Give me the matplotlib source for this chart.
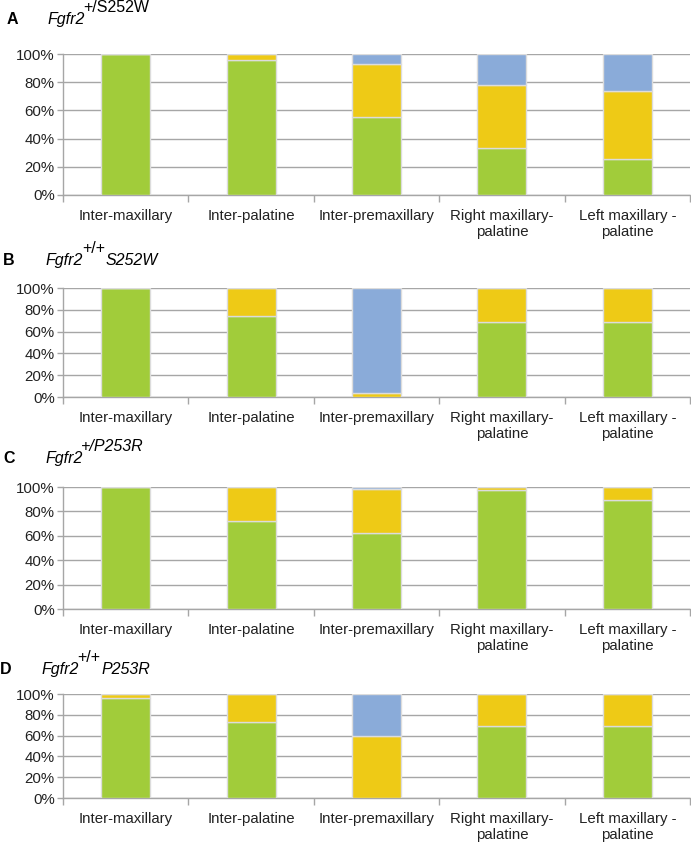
import matplotlib
matplotlib.use("Agg")
import matplotlib.pyplot as plt
import numpy as np

plt.rcParams['font.family'] = ['Liberation Sans', 'DejaVu Sans']

categories = ["Inter-maxillary", "Inter-palatine", "Inter-premaxillary",
              "Right maxillary-\npalatine", "Left maxillary -\npalatine"]

# green / yellow / blue shares (%) per panel
green_a = [100, 96, 55, 33, 25.5]
yellow_a = [0, 4, 38, 45, 48.5]
blue_a = [0, 0, 7, 22, 26]

green_b = [100, 74, 0, 69, 69]
yellow_b = [0, 26, 4, 31, 31]
blue_b = [0, 0, 96, 0, 0]

green_c = [100, 72, 62, 97.5, 89.5]
yellow_c = [0, 28, 36, 2.5, 10.5]
blue_c = [0, 0, 2, 0, 0]

green_d = [96, 73, 0, 69.5, 69.5]
yellow_d = [4, 27, 60, 30.5, 30.5]
blue_d = [0, 0, 40, 0, 0]

panels = [
    ("A", green_a, yellow_a, blue_a, "+/S252W", "", False),
    ("B", green_b, yellow_b, blue_b, "+/+", "S252W", False),
    ("C", green_c, yellow_c, blue_c, "+/P253R", "", True),
    ("D", green_d, yellow_d, blue_d, "+/+", "P253R", False),
]

# axes boxes in pixels: (top, bottom), title baseline, label x, gene x
boxes = [(54, 195), (288, 397), (487, 609), (694, 798)]
title_y = [24, 265, 463, 674]
label_x = [7, 3, 3, 0]
gene_x = [47, 46, 45, 41]

W, H = 691, 847
fig = plt.figure(figsize=(W / 100, H / 100), dpi=100)

GREEN = "#a1cc3a"
YELLOW = "#eeca16"
BLUE = "#8aabd9"
GRID = "#a6a6a6"

x = np.arange(len(categories))
for (lab, g, yl, b, sup, after, sup_it), (top, bot), ty, lx, gx in zip(
        panels, boxes, title_y, label_x, gene_x):
    ax = fig.add_axes([63 / W, 1 - bot / H, (690 - 63) / W, (bot - top) / H])
    g = np.array(g); yl = np.array(yl); b = np.array(b)
    kw = dict(width=0.39, edgecolor="#dcdcdc", linewidth=1, zorder=3)
    ax.bar(x, g, color=GREEN, **kw)
    ax.bar(x, yl, bottom=g, color=YELLOW, **kw)
    ax.bar(x, b, bottom=g + yl, color=BLUE, **kw)

    ax.set_xlim(-0.5, len(categories) - 0.5)
    ax.set_ylim(0, 100)
    ax.set_yticks([0, 20, 40, 60, 80, 100])
    ax.set_yticklabels(["0%", "20%", "40%", "60%", "80%", "100%"], fontsize=10.8, color="#222222")
    ax.set_xticks(x)
    ax.set_xticklabels(categories, fontsize=10.8, color="#222222", linespacing=1.15)
    ax.set_xticks(np.arange(len(categories) + 1) - 0.5, minor=True)
    ax.tick_params(axis="x", which="major", length=0, pad=10)
    ax.tick_params(axis="x", which="minor", length=5, color=GRID, width=1)
    ax.tick_params(axis="y", length=4, color=GRID, width=1, pad=2)
    ax.grid(axis="y", color=GRID, linewidth=1, zorder=0)
    for s in ["top", "right"]:
        ax.spines[s].set_visible(False)
    for s in ["left", "bottom"]:
        ax.spines[s].set_color(GRID)
        ax.spines[s].set_linewidth(1)

    yb = 1 - ty / H
    fig.text(lx / W, yb, lab, fontsize=11.5, fontweight="bold", va="baseline")
    fig.text(gx / W, yb, "Fgfr2", fontsize=11.5, style="italic", va="baseline")
    fig.text((gx + 36) / W, yb + 12 / H, sup, fontsize=11.5,
             style="italic" if sup_it else "normal", va="baseline")
    if after:
        fig.text((gx + 60) / W, yb, after, fontsize=11.5, style="italic", va="baseline")

fig.savefig("out.png", dpi=100)
